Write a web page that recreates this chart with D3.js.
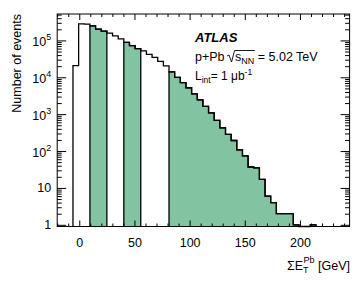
<!DOCTYPE html>
<html>
<head>
<meta charset="utf-8">
<script src="https://cdn.jsdelivr.net/npm/d3@7"></script>
<style>
  body { margin: 0; background: #fff; }
  text { font-family: "Liberation Sans", Arial, sans-serif; }
</style>
</head>
<body>
<div id="chart"></div>
<script>
const width = 354,
    height = 281;

// histogram bins (GeV)
const binStart = -5.7,
    binWidth = 5.12;
const counts = [
    2.07e4, 2.8e5, 2.78e5, 2.47e5, 2.01e5, 1.78e5, 1.57e5, 1.32e5, 1.1e5,
    8.8e4, 7.2e4, 5.96e4, 5.2e4, 4.2e4, 3.46e4, 2.7e4, 2.04e4,
    1.4e4, 9.9e3, 7.2e3, 5.2e3, 3.55e3, 2.44e3, 1.63e3, 1.08e3,
    680, 425, 284, 193, 108, 74, 37, 35, 17, 6, 4, 2, 2, 2, 1,
    0, 0, 1
];
// shaded intervals [low, high] in GeV
const bandLow = [9.66, 40.38, 81.34, 209.34],
    bandHigh = [25.02, 55.74, 199.1, 214.46];

const xMajor = [0, 50, 100, 150, 200],
    yMajor = [1, 10, 100, 1e3, 1e4, 1e5];

const bins = counts.map((c, i) => ({
    x0: binStart + i * binWidth,
    x1: binStart + (i + 1) * binWidth,
    n: c
}));

const xScale = d3.scaleLinear().domain([-20, 245]).range([57.2, 349.6]);
const yScale = d3.scaleLog().domain([0.9, 5.2e5]).range([226.5, 14]);
const yBottom = yScale.range()[0];

const xMinor = d3.range(-20, 241, 10).filter(v => xMajor.indexOf(v) < 0);
let yMinor = [];
for (let e = 0; e <= 5; e++) {
    for (let m = 2; m <= 9; m++) {
        if (m * Math.pow(10, e) <= 5.2e5) yMinor.push(m * Math.pow(10, e));
    }
}

const svg = d3.select('#chart')
    .append('svg')
    .attr('width', width)
    .attr('height', height);

let yOf = n => n > 0 ? yScale(n) : yBottom;

// step path for a set of bins, closed to the bottom
let stepPath = (bs) => {
    let p = d3.path();
    p.moveTo(xScale(bs[0].x0), yBottom);
    bs.forEach(b => {
        p.lineTo(xScale(b.x0), yOf(b.n));
        p.lineTo(xScale(b.x1), yOf(b.n));
    });
    p.lineTo(xScale(bs[bs.length - 1].x1), yBottom);
    return p.toString();
};

// shaded bands
bandLow.forEach((lo, i) => {
    let bs = bins.filter(b => b.x0 >= lo - 0.1 && b.x1 <= bandHigh[i] + 0.1);
    svg.append('path')
        .attr('d', stepPath(bs))
        .attr('fill', '#82c4a2')
        .attr('stroke', '#000')
        .attr('stroke-width', 1.3);
});

// full histogram outline
svg.append('path')
    .attr('d', stepPath(bins))
    .attr('fill', 'none')
    .attr('stroke', '#000')
    .attr('stroke-width', 1.3);

// axes with inward ticks on all four sides
let addAxis = (gen, tr) => {
    let g = svg.append('g').attr('transform', tr).call(gen);
    g.select('.domain').remove();
    g.selectAll('line').attr('stroke', '#000');
    return g;
};

const x0 = xScale.range()[0],
    x1 = xScale.range()[1],
    yTop = yScale.range()[1];

let xb = addAxis(d3.axisBottom(xScale).tickValues(xMajor).tickSize(-6).tickPadding(11.5), `translate(0,${yBottom})`);
xb.selectAll('text').attr('font-size', 12.5).attr('fill', '#000');
addAxis(d3.axisBottom(xScale).tickValues(xMinor).tickSize(-3).tickFormat(''), `translate(0,${yBottom})`);
addAxis(d3.axisTop(xScale).tickValues(xMajor).tickSize(-6).tickFormat(''), `translate(0,${yTop})`);
addAxis(d3.axisTop(xScale).tickValues(xMinor).tickSize(-3).tickFormat(''), `translate(0,${yTop})`);

addAxis(d3.axisLeft(yScale).tickValues(yMajor).tickSize(-9).tickFormat(''), `translate(${x0},0)`);
addAxis(d3.axisLeft(yScale).tickValues(yMinor).tickSize(-4.5).tickFormat(''), `translate(${x0},0)`);
addAxis(d3.axisRight(yScale).tickValues(yMajor).tickSize(-9).tickFormat(''), `translate(${x1},0)`);
addAxis(d3.axisRight(yScale).tickValues(yMinor).tickSize(-4.5).tickFormat(''), `translate(${x1},0)`);

// y labels: 1, 10, then powers of ten
yMajor.forEach(v => {
    let e = Math.round(Math.log10(v));
    let t = svg.append('text')
        .attr('x', x0 - 6)
        .attr('y', yScale(v) + (e < 2 ? 4.5 : 6))
        .attr('text-anchor', 'end')
        .attr('font-size', 12.5);
    if (e < 2) {
        t.text(v);
    } else {
        t.append('tspan').text('10');
        t.append('tspan').attr('dy', -6).attr('font-size', 9).text(e);
    }
});

// frame
svg.append('rect')
    .attr('x', x0).attr('y', yTop)
    .attr('width', x1 - x0).attr('height', yBottom - yTop)
    .attr('fill', 'none')
    .attr('stroke', '#000')
    .attr('stroke-width', 1);

// axis titles
svg.append('text')
    .attr('transform', 'translate(21,14) rotate(-90)')
    .attr('text-anchor', 'end')
    .attr('font-size', 12.5)
    .text('Number of events');

let xt = svg.append('text')
    .attr('x', 350)
    .attr('y', 270)
    .attr('text-anchor', 'end')
    .attr('font-size', 12.5);
xt.append('tspan').text('ΣE');
xt.append('tspan').attr('font-size', 9).attr('dy', 3).text('T');
xt.append('tspan').attr('font-size', 9).attr('dy', -10).attr('dx', -5).text('Pb');
xt.append('tspan').attr('dy', 7).text('\u00a0[GeV]');

// labels
svg.append('text')
    .attr('x', 195).attr('y', 42)
    .attr('font-size', 13)
    .attr('font-weight', 'bold')
    .attr('font-style', 'italic')
    .text('ATLAS');

// p+Pb sqrt(s_NN) line, pieces placed one after another
let px = 195;
let piece = (str, dy, fs) => {
    let t = svg.append('text')
        .attr('x', px).attr('y', 61 + dy)
        .attr('font-size', fs)
        .text(str);
    px += t.node().getComputedTextLength();
    return t;
};
piece('p+Pb', 0, 12.5);
let sq0 = px + 2.5;
px = sq0 + 8;
piece('s', 0, 12.5);
piece('NN', 3, 9);
let sq1 = px + 0.5;
piece('\u00a0= 5.02 TeV', 0, 12.5);
svg.append('path')
    .attr('d', `M${sq0},56 L${sq0 + 2},55 L${sq0 + 4.5},62 L${sq0 + 7.5},50.5 L${sq1},50.5`)
    .attr('fill', 'none')
    .attr('stroke', '#000')
    .attr('stroke-width', 0.9);

let t3 = svg.append('text')
    .attr('x', 195).attr('y', 80)
    .attr('font-size', 12);
t3.append('tspan').text('L');
t3.append('tspan').attr('font-size', 8.5).attr('dy', 3).text('int');
t3.append('tspan').attr('dy', -3).text('= 1 μb');
t3.append('tspan').attr('font-size', 8.5).attr('dy', -5).text('-1');
</script>
</body>
</html>
